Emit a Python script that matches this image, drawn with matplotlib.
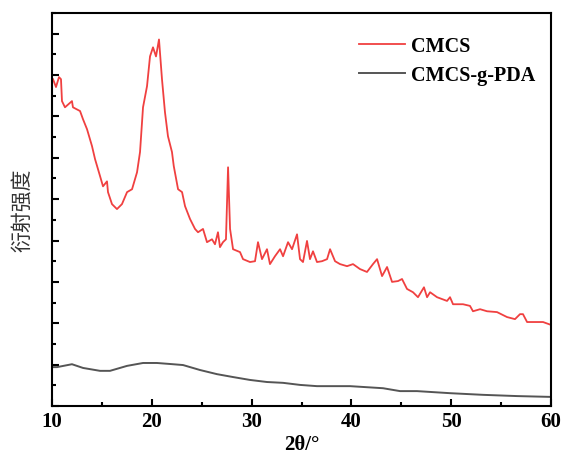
import matplotlib.pyplot as plt
from matplotlib.ticker import MultipleLocator, NullFormatter

# CMCS (red)
cmcs_x = [10.1, 10.4, 10.7, 10.9, 11.0, 11.3, 12.0, 12.1, 12.81, 13.11, 13.51, 14.01, 14.31,
          14.81, 15.11, 15.51, 15.61, 16.01, 16.51, 17.01, 17.52, 18.02, 18.52, 18.82, 19.12,
          19.52, 19.82, 20.12, 20.42, 20.72, 21.02, 21.32, 21.62, 22.02, 22.2, 22.63, 23.03,
          23.33, 23.83, 24.33, 24.63, 25.13, 25.53, 26.03, 26.33, 26.63, 26.83, 27.13, 27.43,
          27.64, 27.84, 28.14, 28.84, 29.14, 29.84, 30.34, 30.64, 31.04, 31.54, 31.84, 32.34,
          32.85, 33.15, 33.65, 34.05, 34.55, 34.85, 35.15, 35.55, 35.85, 36.15, 36.55, 37.05,
          37.56, 37.86, 38.36, 38.86, 39.56, 40.16, 40.86, 41.56, 42.16, 42.57, 43.07, 43.57,
          44.07, 44.67, 45.07, 45.57, 46.17, 46.67, 47.27, 47.58, 47.88, 48.58, 49.58, 49.88,
          50.18, 51.18, 51.88, 52.18, 52.89, 53.59, 54.59, 55.59, 56.39, 56.89, 57.19, 57.6,
          58.6, 59.2, 60.0]
cmcs_y = [7.90, 7.71, 7.95, 7.90, 7.37, 7.22, 7.37, 7.22, 7.13, 6.93, 6.69, 6.28, 5.97,
          5.56, 5.31, 5.43, 5.17, 4.88, 4.76, 4.88, 5.17, 5.24, 5.65, 6.14, 7.22,
          7.73, 8.45, 8.67, 8.45, 8.86, 7.90, 7.10, 6.52, 6.14, 5.80, 5.24, 5.17,
          4.83, 4.52, 4.28, 4.20, 4.28, 3.96, 4.03, 3.91, 4.20, 3.84, 3.96, 4.03,
          5.77, 4.28, 3.79, 3.72, 3.55, 3.48, 3.50, 3.96, 3.55, 3.79, 3.43, 3.62,
          3.79, 3.62, 3.96, 3.79, 4.15, 3.55, 3.48, 3.99, 3.55, 3.74, 3.48, 3.50,
          3.55, 3.79, 3.50, 3.43, 3.38, 3.43, 3.31, 3.24, 3.43, 3.55, 3.14, 3.36,
          3.00, 3.02, 3.07, 2.83, 2.75, 2.63, 2.87, 2.63, 2.75, 2.63, 2.54, 2.63,
          2.46, 2.46, 2.42, 2.29, 2.34, 2.29, 2.27, 2.15, 2.10, 2.22, 2.22, 2.03,
          2.03, 2.03, 1.96]

# CMCS-g-PDA (dark grey)
pda_x = [10.0, 10.5, 12.0, 13.11, 14.81, 15.81, 17.52, 19.12, 20.52, 22.12, 23.13, 24.83,
         26.53, 28.14, 29.84, 31.54, 33.15, 34.85, 36.55, 39.86, 43.17, 44.87, 46.57,
         49.88, 53.19, 56.59, 60.0]
pda_y = [0.94, 0.94, 1.01, 0.92, 0.85, 0.85, 0.97, 1.04, 1.04, 1.01, 0.99, 0.87,
         0.77, 0.70, 0.63, 0.58, 0.56, 0.51, 0.48, 0.48, 0.43, 0.36, 0.36,
         0.31, 0.27, 0.24, 0.22]

fig = plt.figure(figsize=(5.64, 4.60), dpi=100)
ax = fig.add_axes([0.0922, 0.1152, 0.8848, 0.8544])

ax.plot(cmcs_x, cmcs_y, color='#f04040', lw=1.3, label='CMCS')
ax.plot(pda_x, pda_y, color='#555555', lw=1.4, label='CMCS-g-PDA')

ax.set_xlim(10, 60)
ax.set_ylim(0, 9.5)
ax.xaxis.set_major_locator(MultipleLocator(10))
ax.xaxis.set_minor_locator(MultipleLocator(5))
ax.yaxis.set_major_locator(MultipleLocator(1))
ax.yaxis.set_minor_locator(MultipleLocator(0.5))
ax.yaxis.set_major_formatter(NullFormatter())
ax.tick_params(which='both', direction='in', top=False, right=False, width=1.5)
ax.tick_params(which='major', length=5)
ax.tick_params(which='minor', length=3)
for s in ax.spines.values():
    s.set_linewidth(1.5)

for lab in ax.get_xticklabels():
    lab.set_fontfamily('Liberation Serif')
    lab.set_fontweight('bold')
    lab.set_fontsize(15)

ax.set_xlabel('2θ/°', fontfamily='Liberation Serif', fontweight='bold', fontsize=15, labelpad=2)
ax.set_ylabel('衍射强度', fontfamily=['Noto Sans CJK SC', 'DejaVu Sans'], fontsize=15,
              color='#333333', labelpad=10)

leg = ax.legend(loc='upper left', bbox_to_anchor=(0.615, 0.942), frameon=False,
                borderpad=0, borderaxespad=0, handlelength=2.3, handletextpad=0.3,
                labelspacing=0.45, prop={'family': 'Liberation Serif', 'weight': 'bold', 'size': 14.5})

fig.savefig('out.png', dpi=100)
